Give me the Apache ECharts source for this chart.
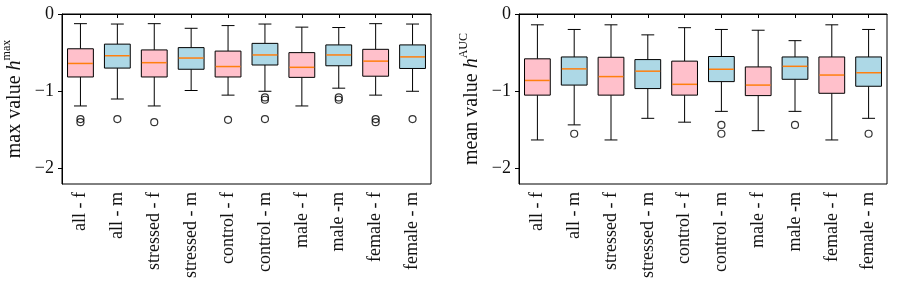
<!DOCTYPE html>
<html>
<head>
<meta charset="utf-8">
<script src="https://cdn.jsdelivr.net/npm/echarts@6/dist/echarts.min.js"></script>
<style>html,body{margin:0;padding:0;background:#fff}#c{width:897px;height:293px}</style>
</head>
<body>
<div id="c"></div>
<script>
const categories = ['all - f','all - m','stressed - f','stressed - m','control - f','control - m','male - f','male -m','female - f','female - m'];
const boxColors = ['#ffc0cb','#add8e6','#ffc0cb','#add8e6','#ffc0cb','#add8e6','#ffc0cb','#add8e6','#ffc0cb','#add8e6'];
const yTicks = [0, -1, -2];

// left panel: max value
const maxLow    = [-1.19, -1.10, -1.19, -0.99, -1.05, -1.00, -1.19, -0.96, -1.05, -1.00];
const maxQ1     = [-0.815, -0.70, -0.815, -0.715, -0.815, -0.66, -0.82, -0.67, -0.805, -0.705];
const maxMedian = [-0.64, -0.54, -0.63, -0.57, -0.68, -0.53, -0.69, -0.53, -0.61, -0.555];
const maxQ3     = [-0.45, -0.39, -0.465, -0.435, -0.48, -0.38, -0.50, -0.40, -0.457, -0.40];
const maxHigh   = [-0.125, -0.13, -0.125, -0.185, -0.15, -0.13, -0.17, -0.175, -0.125, -0.13];
const maxOutliers = [[0,-1.36],[0,-1.40],[1,-1.36],[2,-1.40],[4,-1.37],[5,-1.08],[5,-1.11],[5,-1.36],[7,-1.08],[7,-1.11],[8,-1.36],[8,-1.40],[9,-1.36]];

// right panel: mean value (AUC)
const aucLow    = [-1.63, -1.435, -1.63, -1.35, -1.40, -1.26, -1.51, -1.26, -1.63, -1.35];
const aucQ1     = [-1.05, -0.92, -1.05, -0.965, -1.05, -0.875, -1.056, -0.845, -1.026, -0.935];
const aucMedian = [-0.86, -0.71, -0.81, -0.74, -0.91, -0.715, -0.92, -0.677, -0.79, -0.76];
const aucQ3     = [-0.58, -0.556, -0.56, -0.59, -0.61, -0.55, -0.685, -0.556, -0.556, -0.556];
const aucHigh   = [-0.14, -0.20, -0.14, -0.27, -0.177, -0.20, -0.21, -0.345, -0.14, -0.20];
const aucOutliers = [[1,-1.55],[5,-1.435],[5,-1.55],[7,-1.435],[9,-1.55]];

const FONT = '"Liberation Serif", "DejaVu Serif", serif';
const chart = echarts.init(document.getElementById('c'));

function boxData(low, q1, med, q3, high) {
  return categories.map((c, i) => [i, low[i], q1[i], med[i], q3[i], high[i]]);
}

function renderBox(params, api) {
  const i = api.value(0);
  const x = api.coord([i, 0])[0];
  const band = api.size([1, 0])[0];
  const w = band * 0.7, cw = w * 0.5;
  const yl = api.coord([i, api.value(1)])[1];
  const y1 = api.coord([i, api.value(2)])[1];
  const ym = api.coord([i, api.value(3)])[1];
  const y3 = api.coord([i, api.value(4)])[1];
  const yh = api.coord([i, api.value(5)])[1];
  const ls = {stroke: '#000', lineWidth: 1};
  return {type: 'group', children: [
    {type: 'line', shape: {x1: x, y1: yh, x2: x, y2: y3}, style: ls},
    {type: 'line', shape: {x1: x, y1: y1, x2: x, y2: yl}, style: ls},
    {type: 'line', shape: {x1: x - cw/2, y1: yh, x2: x + cw/2, y2: yh}, style: ls},
    {type: 'line', shape: {x1: x - cw/2, y1: yl, x2: x + cw/2, y2: yl}, style: ls},
    {type: 'rect', shape: {x: x - w/2, y: y3, width: w, height: y1 - y3}, style: {fill: boxColors[i], stroke: '#000', lineWidth: 1}},
    {type: 'line', shape: {x1: x - w/2 + 0.5, y1: ym, x2: x + w/2 - 0.5, y2: ym}, style: {stroke: '#ff7f0e', lineWidth: 1.5}}
  ]};
}

function xAxisCfg(idx) {
  return {
    type: 'category', gridIndex: idx, data: categories, boundaryGap: true,
    axisLine: {show: true, lineStyle: {color: '#000', width: 1}},
    axisTick: {show: true, alignWithLabel: true, length: 4, lineStyle: {color: '#000'}},
    axisLabel: {rotate: 90, interval: 0, margin: 8, fontFamily: FONT, fontSize: 18, color: '#111'},
    splitLine: {show: false}
  };
}
function yAxisCfg(idx, supText, gap) {
  return {
    type: 'value', gridIndex: idx, min: -2.2, max: 0,
    axisLine: {show: true, lineStyle: {color: '#000', width: 1}},
    axisTick: {show: true, length: 4, customValues: yTicks, lineStyle: {color: '#000'}},
    axisLabel: {customValues: yTicks, margin: 8, fontFamily: FONT, fontSize: 18, color: '#111',
      formatter: v => (v < 0 ? '\u2212' + Math.abs(v) : String(v))},
    splitLine: {show: false},
    name: '{r|' + (idx === 0 ? 'max value ' : 'mean value ') + '}{i|h}{s|' + supText + '}',
    nameLocation: 'middle', nameRotate: 90, nameGap: gap,
    nameTextStyle: {
      rich: {
        r: {fontFamily: FONT, fontSize: 20, color: '#111', lineHeight: 24, verticalAlign: 'bottom'},
        i: {fontFamily: FONT, fontSize: 20, fontStyle: 'italic', color: '#111', lineHeight: 24, verticalAlign: 'bottom'},
        s: {fontFamily: FONT, fontSize: 12, color: '#111', lineHeight: 24, verticalAlign: 'top'}
      }
    }
  };
}

chart.setOption({
  animation: false,
  grid: [
    {left: 61, top: 14, width: 370, height: 170, show: true, borderColor: '#000', borderWidth: 1, backgroundColor: 'transparent'},
    {left: 519, top: 14, width: 368, height: 170, show: true, borderColor: '#000', borderWidth: 1, backgroundColor: 'transparent'}
  ],
  xAxis: [xAxisCfg(0), xAxisCfg(1)],
  yAxis: [yAxisCfg(0, 'max', 37), yAxisCfg(1, 'AUC', 37)],
  series: [
    {type: 'custom', xAxisIndex: 0, yAxisIndex: 0, renderItem: renderBox, encode: {x: 0, y: [1,2,3,4,5]}, data: boxData(maxLow, maxQ1, maxMedian, maxQ3, maxHigh)},
    {type: 'scatter', xAxisIndex: 0, yAxisIndex: 0, symbol: 'circle', symbolSize: 7, data: maxOutliers,
      itemStyle: {color: 'rgba(0,0,0,0)', borderColor: '#000', borderWidth: 1.2}},
    {type: 'custom', xAxisIndex: 1, yAxisIndex: 1, renderItem: renderBox, encode: {x: 0, y: [1,2,3,4,5]}, data: boxData(aucLow, aucQ1, aucMedian, aucQ3, aucHigh)},
    {type: 'scatter', xAxisIndex: 1, yAxisIndex: 1, symbol: 'circle', symbolSize: 7, data: aucOutliers,
      itemStyle: {color: 'rgba(0,0,0,0)', borderColor: '#000', borderWidth: 1.2}}
  ]
});
</script>
</body>
</html>
